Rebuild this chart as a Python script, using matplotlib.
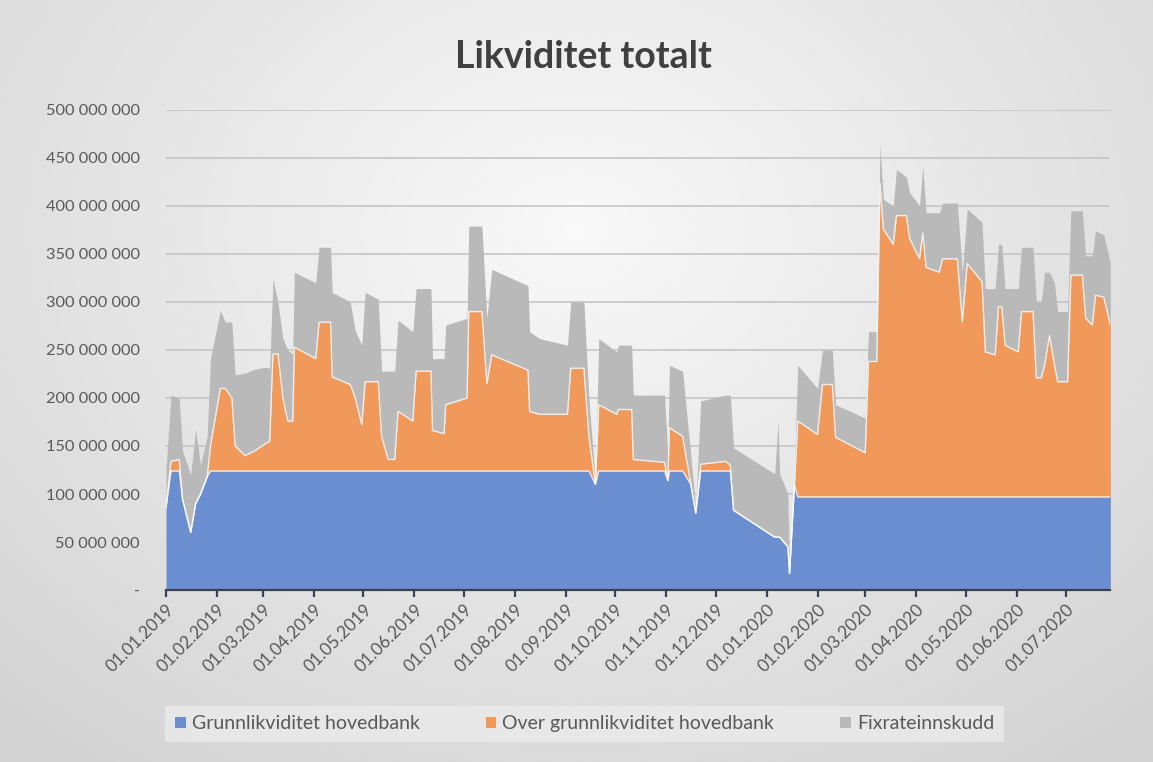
import numpy as np
import pandas as pd
import matplotlib
matplotlib.use('Agg')
import matplotlib.pyplot as plt
import matplotlib.dates as mdates
from matplotlib.patches import Patch
from matplotlib.ticker import FuncFormatter

plt.rcParams['font.family'] = ['Lato', 'DejaVu Sans']

# values in millions NOK
dates = ['2019-01-01', '2019-01-04', '2019-01-09', '2019-01-11', '2019-01-16', '2019-01-19',
         '2019-01-22', '2019-01-26', '2019-01-28', '2019-02-03', '2019-02-06', '2019-02-10',
         '2019-02-12', '2019-02-18', '2019-02-24', '2019-03-02', '2019-03-05', '2019-03-07',
         '2019-03-10', '2019-03-13', '2019-03-16', '2019-03-19', '2019-03-20', '2019-04-02',
         '2019-04-04', '2019-04-11', '2019-04-12', '2019-04-23', '2019-04-26', '2019-04-30',
         '2019-05-02', '2019-05-10', '2019-05-12', '2019-05-16', '2019-05-20', '2019-05-22',
         '2019-05-31', '2019-06-02', '2019-06-11', '2019-06-12', '2019-06-19', '2019-06-20',
         '2019-07-03', '2019-07-04', '2019-07-12', '2019-07-15', '2019-07-18', '2019-08-09',
         '2019-08-10', '2019-08-16', '2019-09-02', '2019-09-04', '2019-09-12', '2019-09-15',
         '2019-09-19', '2019-09-21', '2019-10-02', '2019-10-03', '2019-10-11', '2019-10-12',
         '2019-10-31', '2019-11-02', '2019-11-03', '2019-11-11', '2019-11-16', '2019-11-19',
         '2019-11-22', '2019-12-07', '2019-12-10', '2019-12-12', '2020-01-06', '2020-01-08',
         '2020-01-09', '2020-01-14', '2020-01-15', '2020-01-18', '2020-01-20', '2020-02-01',
         '2020-02-04', '2020-02-10', '2020-02-12', '2020-03-01', '2020-03-03', '2020-03-08',
         '2020-03-10', '2020-03-12', '2020-03-18', '2020-03-20', '2020-03-26', '2020-03-28',
         '2020-04-03', '2020-04-05', '2020-04-07', '2020-04-15', '2020-04-17', '2020-04-26',
         '2020-04-29', '2020-05-02', '2020-05-11', '2020-05-13', '2020-05-19', '2020-05-21',
         '2020-05-23', '2020-05-25', '2020-06-02', '2020-06-04', '2020-06-11', '2020-06-13',
         '2020-06-16', '2020-06-18', '2020-06-21', '2020-06-24', '2020-06-26', '2020-07-02',
         '2020-07-04', '2020-07-11', '2020-07-13', '2020-07-17', '2020-07-19', '2020-07-24',
         '2020-07-28']

grunn = [86, 124, 124, 95, 60, 90, 100, 118, 124, 124, 124, 124,
         124, 124, 124, 124, 124, 124, 124, 124, 124, 124, 124, 124,
         124, 124, 124, 124, 124, 124, 124, 124, 124, 124, 124, 124,
         124, 124, 124, 124, 124, 124, 124, 124, 124, 124, 124, 124,
         124, 124, 124, 124, 124, 124, 110, 124, 124, 124, 124, 124,
         124, 114, 124, 124, 110, 80, 124, 124, 124, 83, 55, 55,
         55, 45, 17, 110, 97, 97, 97, 97, 97, 97, 97, 97,
         97, 97, 97, 97, 97, 97, 97, 97, 97, 97, 97, 97,
         97, 97, 97, 97, 97, 97, 97, 97, 97, 97, 97, 97,
         97, 97, 97, 97, 97, 97, 97, 97, 97, 97, 97, 97,
         97]

over = [0, 10, 12, 0, 0, 0, 0, 0, 26, 86, 86, 76,
        26, 16, 21, 28, 31, 122, 122, 76, 52, 52, 129, 117,
        155, 155, 98, 90, 76, 48, 93, 93, 36, 12, 12, 62,
        52, 104, 104, 42, 39, 69, 76, 166, 166, 91, 121, 105,
        62, 59, 59, 107, 107, 36, 0, 69, 59, 64, 64, 12,
        9, 0, 45, 36, 0, 0, 7, 10, 6, 0, 0, 0,
        0, 0, 0, 0, 79, 65, 117, 117, 62, 46, 141, 141,
        327, 279, 263, 293, 293, 269, 248, 275, 239, 234, 248, 248,
        182, 243, 224, 151, 148, 198, 198, 158, 151, 193, 193, 124,
        124, 137, 168, 137, 120, 120, 231, 231, 186, 179, 210, 208,
        179]

fix = [40, 69, 64, 50, 60, 77, 30, 42, 91, 81, 69, 79,
       74, 86, 85, 80, 76, 78, 54, 62, 74, 70, 78, 79,
       78, 78, 88, 86, 70, 83, 93, 86, 68, 92, 92, 95,
       93, 86, 86, 75, 78, 83, 83, 89, 89, 68, 89, 88,
       83, 79, 72, 69, 69, 40, 2, 69, 65, 67, 67, 67,
       70, 26, 65, 68, 30, 5, 66, 69, 73, 65, 66, 121,
       66, 55, 3, 21, 58, 48, 36, 36, 34, 36, 31, 31,
       40, 31, 40, 48, 40, 48, 55, 69, 57, 62, 58, 58,
       52, 57, 62, 66, 69, 65, 65, 59, 66, 67, 67, 79,
       79, 97, 66, 86, 73, 73, 67, 67, 65, 72, 67, 65,
       64]

series_names = ['Grunnlikviditet hovedbank', 'Over grunnlikviditet hovedbank', 'Fixrateinnskudd']
colors = ['#6a8ecf', '#f0995b', '#b9b9b9']

x = pd.to_datetime(dates)
g = np.array(grunn) * 1e6
o = g + np.array(over) * 1e6
t = o + np.array(fix) * 1e6

fig = plt.figure(figsize=(11.53, 7.62), dpi=100)

# light radial background like the office chart style
bg = fig.add_axes([0, 0, 1, 1], zorder=-10)
yy, xx = np.mgrid[0:1:300j, 0:1:400j]
r = np.sqrt(((xx - 0.5) / 0.8) ** 2 + ((yy - 0.3) / 0.95) ** 2)
bg.imshow(0.975 - 0.16 * r, cmap='gray', vmin=0, vmax=1, aspect='auto',
          extent=[0, 1, 0, 1], origin='upper')
bg.axis('off')

ax = fig.add_axes([0.144, 0.2257, 0.819, 0.63])
ax.patch.set_alpha(0)

ax.fill_between(x, 0, g, color=colors[0], lw=0, zorder=2)
ax.fill_between(x, g, o, color=colors[1], lw=0, zorder=3)
ax.fill_between(x, o, t, color=colors[2], lw=0, zorder=4)
ax.plot(x, g, color='white', lw=1.0, alpha=0.75, zorder=5)
ax.plot(x, o, color='white', lw=1.0, alpha=0.75, zorder=5)

ax.set_xlim(x[0], x[-1])
ax.set_ylim(0, 500e6)
ax.set_yticks(np.arange(0, 500e6 + 1, 50e6))
ax.yaxis.set_major_formatter(FuncFormatter(
    lambda v, p: '-' if v == 0 else f'{int(round(v)):,}'.replace(',', ' ')))
ax.grid(axis='y', color='#c2c2c2', lw=1.1)
ax.set_axisbelow(True)

ax.xaxis.set_major_locator(mdates.MonthLocator())
ax.xaxis.set_major_formatter(mdates.DateFormatter('%d.%m.%Y'))
plt.setp(ax.get_xticklabels(), rotation=45, ha='right', rotation_mode='anchor')

for s in ['top', 'right', 'left']:
    ax.spines[s].set_visible(False)
ax.spines['bottom'].set_color('#3a4152')
ax.spines['bottom'].set_linewidth(1.6)
ax.spines['bottom'].set_zorder(6)
ax.tick_params(axis='x', direction='out', length=5, width=1.6, color='#3a4152',
               labelsize=12.5, labelcolor='#595959', pad=3)
ax.tick_params(axis='y', length=0, labelsize=11.8, labelcolor='#595959', pad=19)

fig.text(0.506, 0.925, 'Likviditet totalt', ha='center', va='center',
         fontsize=27, fontweight='bold', color='#404040')

handles = [Patch(facecolor=c, edgecolor='none') for c in colors]
leg = fig.legend(handles, series_names, loc='center', bbox_to_anchor=(0.507, 0.05),
                 ncol=3, frameon=True, fontsize=14, handlelength=0.55, handleheight=0.55,
                 handletextpad=0.3, columnspacing=3.4, borderpad=0.5, fancybox=False)
leg.get_frame().set_facecolor('#ebebeb')
leg.get_frame().set_edgecolor('none')
for txt in leg.get_texts():
    txt.set_color('#595959')

fig.savefig('out.png', dpi=100)
